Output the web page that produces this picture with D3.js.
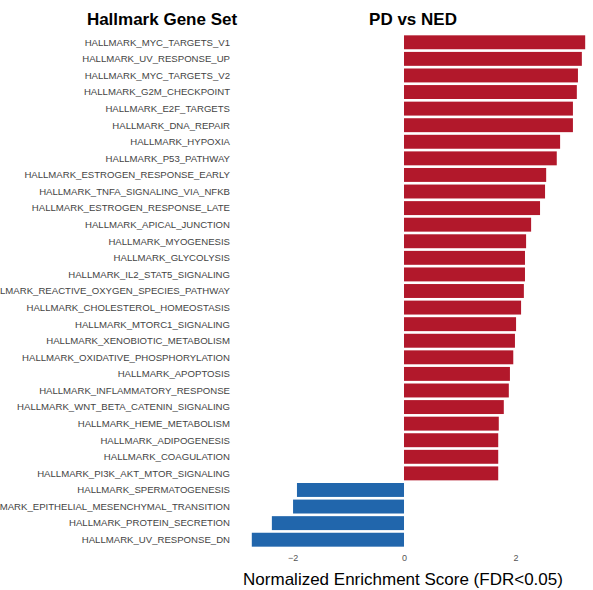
<!DOCTYPE html>
<html><head><meta charset="utf-8">
<script src="https://cdnjs.cloudflare.com/ajax/libs/d3/7.8.5/d3.min.js"></script>
<style>body{margin:0;background:#fff}</style></head>
<body><div id="chart"></div>
<script>
const geneSets = [
  'HALLMARK_MYC_TARGETS_V1','HALLMARK_UV_RESPONSE_UP','HALLMARK_MYC_TARGETS_V2','HALLMARK_G2M_CHECKPOINT',
  'HALLMARK_E2F_TARGETS','HALLMARK_DNA_REPAIR','HALLMARK_HYPOXIA','HALLMARK_P53_PATHWAY',
  'HALLMARK_ESTROGEN_RESPONSE_EARLY','HALLMARK_TNFA_SIGNALING_VIA_NFKB','HALLMARK_ESTROGEN_RESPONSE_LATE',
  'HALLMARK_APICAL_JUNCTION','HALLMARK_MYOGENESIS','HALLMARK_GLYCOLYSIS','HALLMARK_IL2_STAT5_SIGNALING',
  'HALLMARK_REACTIVE_OXYGEN_SPECIES_PATHWAY','HALLMARK_CHOLESTEROL_HOMEOSTASIS','HALLMARK_MTORC1_SIGNALING',
  'HALLMARK_XENOBIOTIC_METABOLISM','HALLMARK_OXIDATIVE_PHOSPHORYLATION','HALLMARK_APOPTOSIS',
  'HALLMARK_INFLAMMATORY_RESPONSE','HALLMARK_WNT_BETA_CATENIN_SIGNALING','HALLMARK_HEME_METABOLISM',
  'HALLMARK_ADIPOGENESIS','HALLMARK_COAGULATION','HALLMARK_PI3K_AKT_MTOR_SIGNALING',
  'HALLMARK_SPERMATOGENESIS','HALLMARK_EPITHELIAL_MESENCHYMAL_TRANSITION','HALLMARK_PROTEIN_SECRETION',
  'HALLMARK_UV_RESPONSE_DN'
];
const nes = [3.25,3.19,3.12,3.10,3.03,3.03,2.80,2.74,2.55,2.53,2.44,2.28,2.19,2.17,2.17,2.15,2.10,2.01,
  1.99,1.96,1.90,1.88,1.79,1.70,1.69,1.69,1.69,-1.92,-1.99,-2.37,-2.73];
const xTicks = [-2, 0, 2];

const W = 593, H = 590;
const svg = d3.select('#chart').append('svg').attr('width', W).attr('height', H)
  .style('font-family', 'Liberation Sans, Arial, sans-serif');

const x = d3.scaleLinear().domain([-3, 3.3]).range([236.75, 587.98]);
const y = d3.scaleBand().domain(geneSets).range([34, 548]).paddingInner(0.16).paddingOuter(0.08);

svg.selectAll('rect.bar').data(geneSets).join('rect')
  .attr('x', (d, i) => x(Math.min(0, nes[i])))
  .attr('width', (d, i) => Math.abs(x(nes[i]) - x(0)))
  .attr('y', d => y(d)).attr('height', y.bandwidth())
  .attr('fill', (d, i) => nes[i] > 0 ? '#b2182b' : '#2166ac');

svg.selectAll('text.lab').data(geneSets).join('text')
  .attr('x', 230).attr('y', d => y(d) + y.bandwidth() / 2)
  .attr('dy', '0.35em').attr('text-anchor', 'end')
  .attr('font-size', 9.6).attr('fill', '#444').text(d => d);

const ax = svg.append('g').attr('transform', 'translate(0,551)')
  .call(d3.axisBottom(x).tickValues(xTicks).tickFormat(d3.format('d')).tickSize(0).tickPadding(4));
ax.select('.domain').remove();
ax.selectAll('text').attr('font-size', 9).attr('fill', '#555')
  .style('font-family', 'Liberation Sans, Arial, sans-serif');

svg.append('text').attr('x', 162).attr('y', 25).attr('text-anchor', 'middle')
  .attr('font-size', 17).attr('font-weight', 'bold').text('Hallmark Gene Set');
svg.append('text').attr('x', 413).attr('y', 25).attr('text-anchor', 'middle')
  .attr('font-size', 17).attr('font-weight', 'bold').text('PD vs NED');
svg.append('text').attr('x', 403).attr('y', 585).attr('text-anchor', 'middle')
  .attr('font-size', 17).text('Normalized Enrichment Score (FDR<0.05)');
</script></body></html>
